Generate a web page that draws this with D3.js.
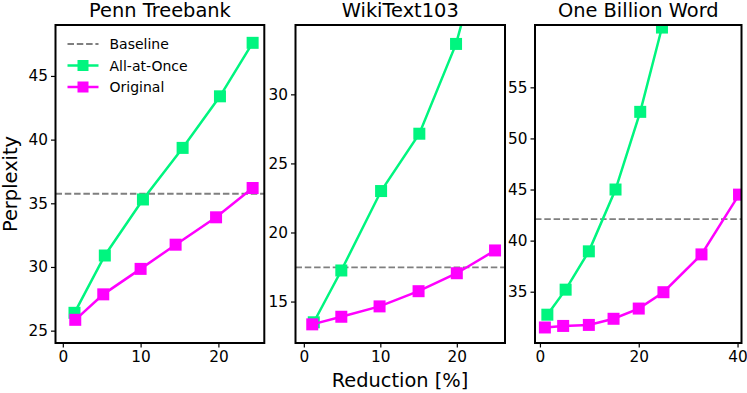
<!DOCTYPE html>
<html><head><meta charset="utf-8">
<script src="https://cdn.jsdelivr.net/npm/d3@7"></script>
<style>
html,body{margin:0;padding:0;background:#fff;}
svg text{font-family:"DejaVu Sans",sans-serif;fill:#000;}
</style></head>
<body><svg id="chart" width="747" height="393"></svg>
<script>
// ---- data ----
const panelTitles = ["Penn Treebank", "WikiText103", "One Billion Word"];
const seriesNames = ["Baseline", "All-at-Once", "Original"];
const baselineValues = [35.75, 17.47, 42.1];

const ptbAllX = [1.5, 5.4, 10.3, 15.4, 20.2, 24.4];
const ptbAllY = [26.4, 30.9, 35.3, 39.35, 43.4, 47.6];
const ptbOrigX = [1.6, 5.2, 10.0, 14.5, 19.7, 24.4];
const ptbOrigY = [25.85, 27.85, 29.85, 31.75, 33.9, 36.2];

const wikiAllX = [1.3, 4.9, 10.1, 15.1, 19.9, 25.0];
const wikiAllY = [13.5, 17.25, 23.0, 27.15, 33.65, 44.0];
const wikiOrigX = [1.1, 4.9, 9.9, 15.0, 20.0, 25.0];
const wikiOrigY = [13.35, 13.9, 14.65, 15.75, 17.05, 18.7];

const obwAllX = [1.5, 5.2, 9.9, 15.3, 20.3, 24.7];
const obwAllY = [32.75, 35.2, 38.95, 45.0, 52.6, 60.85];
const obwOrigX = [1.0, 4.7, 9.9, 14.9, 20.0, 25.0, 32.7, 40.3];
const obwOrigY = [31.5, 31.65, 31.75, 32.35, 33.35, 34.95, 38.65, 44.5];

const xTicks = [[0, 10, 20], [0, 10, 20], [0, 20, 40]];
const yTicks = [[25, 30, 35, 40, 45], [15, 20, 25, 30], [35, 40, 45, 50, 55]];
const xDomains = [[-0.94, 25.9], [-1.09, 26.3], [-1.0, 40.8]];
const yDomains = [[24.03, 49.0], [12.0, 35.02], [29.98, 61.1]];

// ---- layout ----
const panelX = [[55.5, 264.3], [295.5, 505], [535, 741.5]];
const plotTop = 25, plotBottom = 343;
const colors = {base: "#7f7f7f", all: "#00F57F", orig: "#FF00FF"};

const allSeries = [
  {all: [ptbAllX, ptbAllY], orig: [ptbOrigX, ptbOrigY]},
  {all: [wikiAllX, wikiAllY], orig: [wikiOrigX, wikiOrigY]},
  {all: [obwAllX, obwAllY], orig: [obwOrigX, obwOrigY]}
];

const svg = d3.select("#chart");
const defs = svg.append("defs");

panelTitles.forEach((title, i) => {
  const x = d3.scaleLinear().domain(xDomains[i]).range(panelX[i]);
  const y = d3.scaleLinear().domain(yDomains[i]).range([plotBottom, plotTop]);
  const g = svg.append("g");
  const clipId = "clip" + i;
  defs.append("clipPath").attr("id", clipId).append("rect")
    .attr("x", panelX[i][0]).attr("y", plotTop)
    .attr("width", panelX[i][1] - panelX[i][0]).attr("height", plotBottom - plotTop);

  const plot = g.append("g").attr("clip-path", `url(#${clipId})`);
  plot.append("line")
    .attr("x1", panelX[i][0]).attr("x2", panelX[i][1])
    .attr("y1", y(baselineValues[i])).attr("y2", y(baselineValues[i]))
    .attr("stroke", colors.base).attr("stroke-width", 1.8)
    .attr("stroke-dasharray", "6.5,2.8");

  const line = d3.line().x(d => x(d[0])).y(d => y(d[1]));
  [["all", colors.all], ["orig", colors.orig]].forEach(([key, col]) => {
    const [xs, ys] = allSeries[i][key];
    const pts = xs.map((v, k) => [v, ys[k]]);
    plot.append("path").datum(pts).attr("d", line)
      .attr("fill", "none").attr("stroke", col).attr("stroke-width", 2.5);
    plot.selectAll(null).data(pts).enter().append("rect")
      .attr("x", d => x(d[0]) - 6).attr("y", d => y(d[1]) - 6)
      .attr("width", 12).attr("height", 12).attr("fill", col);
  });

  const xAxis = d3.axisBottom(x).tickValues(xTicks[i]).tickSize(4.5).tickPadding(3.5).tickFormat(d3.format("d"));
  const yAxis = d3.axisLeft(y).tickValues(yTicks[i]).tickSize(4.5).tickPadding(3).tickFormat(d3.format("d"));
  const gx = g.append("g").attr("transform", `translate(0,${plotBottom})`).call(xAxis);
  const gy = g.append("g").attr("transform", `translate(${panelX[i][0]},0)`).call(yAxis);
  [gx, gy].forEach(a => {
    a.select(".domain").remove();
    a.selectAll(".tick line").attr("stroke", "#000").attr("stroke-width", 1.2);
    a.selectAll(".tick text").style("font-size", "15.3px").attr("fill", "#000");
  });

  g.append("rect").attr("x", panelX[i][0]).attr("y", plotTop)
    .attr("width", panelX[i][1] - panelX[i][0]).attr("height", plotBottom - plotTop)
    .attr("fill", "none").attr("stroke", "#000").attr("stroke-width", 2);

  g.append("text").attr("x", (panelX[i][0] + panelX[i][1]) / 2).attr("y", 17)
    .attr("text-anchor", "middle").style("font-size", "19.4px").text(title);
});

svg.append("text").attr("x", 400).attr("y", 387).attr("text-anchor", "middle")
  .style("font-size", "19.4px").text("Reduction [%]");
svg.append("text").attr("transform", "translate(17,184) rotate(-90)")
  .attr("text-anchor", "middle").style("font-size", "19.4px").text("Perplexity");

const lg = svg.append("g");
const legendRows = [
  {name: seriesNames[0], col: colors.base, dash: true, y: 44},
  {name: seriesNames[1], col: colors.all, dash: false, y: 65.5},
  {name: seriesNames[2], col: colors.orig, dash: false, y: 87}
];
legendRows.forEach(r => {
  lg.append("line").attr("x1", 67.5).attr("x2", 98.5).attr("y1", r.y).attr("y2", r.y)
    .attr("stroke", r.col).attr("stroke-width", r.dash ? 1.8 : 2.5)
    .attr("stroke-dasharray", r.dash ? "6.5,2.8" : null);
  if (!r.dash) lg.append("rect").attr("x", 83 - 5.5).attr("y", r.y - 5.5)
    .attr("width", 11).attr("height", 11).attr("fill", r.col);
  lg.append("text").attr("x", 109.5).attr("y", r.y + 5).style("font-size", "14px").text(r.name);
});
</script></body></html>
